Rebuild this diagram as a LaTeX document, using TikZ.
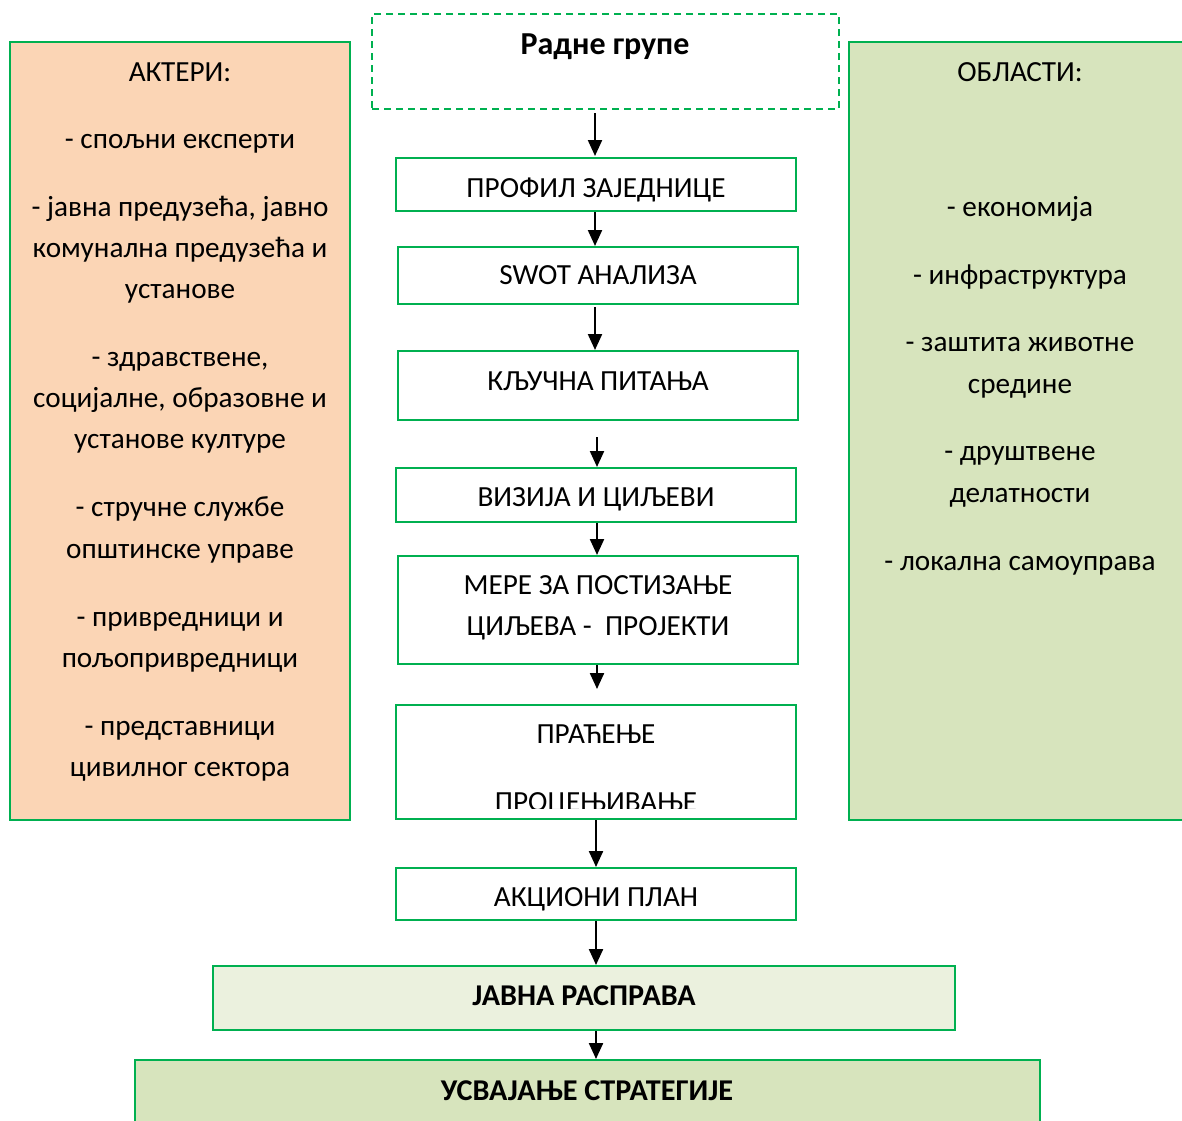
\documentclass[tikz,border=0pt]{standalone}
\usepackage{fontspec}
\setmainfont{Carlito}
\usetikzlibrary{arrows.meta}
\definecolor{grn}{HTML}{00B050}
\definecolor{peach}{HTML}{FBD5B5}
\definecolor{olive}{HTML}{D7E4BD}
\definecolor{pale}{HTML}{EBF1DE}
\begin{document}
\begin{tikzpicture}[x=1pt,y=-1pt,
  box/.style={draw=grn, line width=2pt, rectangle, inner sep=0pt},
  t/.style={font=\fontsize{29.2}{41}\selectfont, anchor=base, inner sep=0pt},
  tb/.style={t, font=\fontsize{30.2}{41}\selectfont\bfseries},
  tbig/.style={t, font=\fontsize{32}{41}\selectfont\bfseries},
  arr/.style={-{Triangle[width=14pt,length=16pt]}, line width=2.2pt}]
\useasboundingbox (0,0) rectangle (1182,1120);
\clip (0,0) rectangle (1182,1120);
% side panels
\node[box, fill=peach, minimum width=340pt, minimum height=778pt] (left) at (180,431) {};
\node[box, fill=olive, minimum width=360pt, minimum height=778pt] (right) at (1029,431) {};
% center boxes
\node[box, dash pattern=on 7pt off 5pt, minimum width=467pt, minimum height=95pt] (rg) at (605.5,61.5) {};
\node[box, minimum width=400pt, minimum height=53pt] (p1) at (596,184.5) {};
\node[box, minimum width=400pt, minimum height=57pt] (p2) at (598,275.5) {};
\node[box, minimum width=400pt, minimum height=69pt] (p3) at (598,385.5) {};
\node[box, minimum width=400pt, minimum height=54pt] (p4) at (596,495) {};
\node[box, minimum width=400pt, minimum height=108pt] (p5) at (598,610) {};
\node[box, minimum width=400pt, minimum height=114pt] (p6) at (596,762) {};
\node[box, minimum width=400pt, minimum height=52pt] (p7) at (596,894) {};
\node[box, fill=pale, minimum width=742pt, minimum height=64pt] (jr) at (584,998) {};
\node[box, fill=olive, minimum width=905pt, minimum height=70pt] (us) at (587.5,1095) {};
% left texts
\node[t] (l0) at (180,81) {АКТЕРИ:};
\node[t] (l1) at (180,148) {- спољни експерти};
\node[t] (l2) at (180,216) {- јавна предузећа, јавно};
\node[t] (l3) at (180,257) {комунална предузећа и};
\node[t] (l4) at (180,298) {установе};
\node[t] (l5) at (180,366) {- здравствене,};
\node[t] (l6) at (180,407) {социјалне, образовне и};
\node[t] (l7) at (180,448) {установе културе};
\node[t] (l8) at (180,516) {- стручне службе};
\node[t] (l9) at (180,558) {општинске управе};
\node[t] (l10) at (180,626) {- привредници и};
\node[t] (l11) at (180,667) {пољопривредници};
\node[t] (l12) at (180,735) {- представници};
\node[t] (l13) at (180,776) {цивилног сектора};
% right texts
\node[t] (r0) at (1020,81) {ОБЛАСТИ:};
\node[t] (r1) at (1020,216) {- економија};
\node[t] (r2) at (1020,284) {- инфраструктура};
\node[t] (r3) at (1020,351) {- заштита животне};
\node[t] (r4) at (1020,393) {средине};
\node[t] (r5) at (1020,460) {- друштвене};
\node[t] (r6) at (1020,502) {делатности};
\node[t] (r7) at (1020,570) {- локална самоуправа};
% center texts
\node[tbig] (c0) at (605,54) {Радне групе};
\node[t] (c1) at (596,197) {ПРОФИЛ ЗАЈЕДНИЦЕ};
\node[t] (c2) at (598,284) {SWOT АНАЛИЗА};
\node[t] (c3) at (598,390) {КЉУЧНА ПИТАЊА};
\node[t] (c4) at (596,506) {ВИЗИЈА И ЦИЉЕВИ};
\node[t] (c5a) at (598,594) {МЕРЕ ЗА ПОСТИЗАЊЕ};
\node[t] (c5b) at (598,635) {ЦИЉЕВА -\ \ ПРОЈЕКТИ};
\node[t] (c6a) at (596,743) {ПРАЋЕЊЕ};
\begin{scope}
\clip (396,700) rectangle (796,808);
\node[t] (c6b) at (596,811) {ПРОЦЕЊИВАЊЕ};
\end{scope}
\node[t] (c7) at (596,906) {АКЦИОНИ ПЛАН};
\node[tb] (c8) at (584,1005) {ЈАВНА РАСПРАВА};
\node[tb] (c9) at (587,1100) {УСВАЈАЊЕ СТРАТЕГИЈЕ};
% arrows
\coordinate (a0) at (595,156);
\draw[arr, shorten <=3pt] (a0 |- rg.south) -- (a0);
\draw[arr] ([xshift=-1pt]p1.south) -- ([xshift=-3pt]p2.north);
\draw[arr, shorten <=2pt] ([xshift=-3pt]p2.south) -- ([xshift=-3pt]p3.north);
\draw[arr, shorten <=16pt] ([xshift=-1pt]p3.south) -- ([xshift=1pt]p4.north);
\draw[arr] ([xshift=1pt]p4.south) -- ([xshift=-1pt]p5.north);
\draw[arr, shorten >=15pt] ([xshift=-1pt]p5.south) -- ([xshift=1pt]p6.north);
\draw[arr] (p6.south) -- (p7.north);
\draw[arr] (p7.south) -- (p7.south |- jr.north);
\draw[arr] (p7.south |- jr.south) -- (p7.south |- us.north);
\end{tikzpicture}
\end{document}
